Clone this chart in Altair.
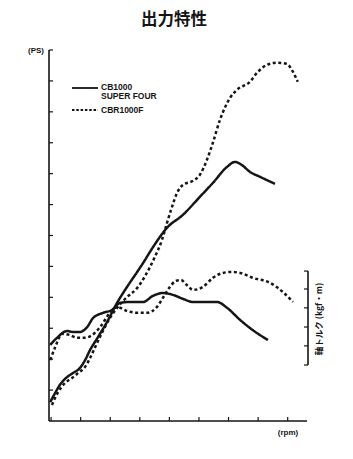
import altair as alt
import pandas as pd

# ---- data (x in rpm-tick units, y in PS-tick units) ----
cb_power_x = [-0.03, 0.14, 0.30, 0.54, 0.74, 0.98, 1.15, 1.32, 1.59, 1.89, 2.23, 2.57, 2.91, 3.11,
              3.45, 3.92, 4.46, 5.03, 5.47, 5.95, 6.22, 6.45, 6.72, 7.06, 7.57]
cb_power_y = [0.61, 0.91, 1.17, 1.42, 1.55, 1.72, 1.97, 2.30, 2.72, 3.20, 3.82, 4.34, 4.82, 5.11,
              5.63, 6.25, 6.67, 7.25, 7.70, 8.22, 8.38, 8.28, 8.06, 7.90, 7.67]

cbr_power_x = [0.03, 0.24, 0.47, 0.71, 0.91, 1.15, 1.32, 1.49, 1.72, 1.99, 2.26, 2.57, 2.91, 3.18,
               3.51, 3.75, 3.92, 4.09, 4.26, 4.46, 4.80, 5.03, 5.27, 5.47, 5.71, 6.05, 6.28, 6.72,
               6.96, 7.30, 7.64, 7.97, 8.18, 8.34]
cbr_power_y = [0.52, 0.94, 1.23, 1.39, 1.55, 1.75, 2.04, 2.39, 2.85, 3.33, 3.69, 4.01, 4.30, 4.69,
               5.31, 5.86, 6.41, 6.93, 7.38, 7.64, 7.77, 7.96, 8.45, 9.00, 9.74, 10.45, 10.71, 10.97,
               11.26, 11.52, 11.59, 11.55, 11.29, 10.97]

cb_torque_x = [-0.03, 0.20, 0.54, 0.74, 0.98, 1.22, 1.42, 1.76, 2.06, 2.33, 2.67, 3.11, 3.45, 3.78,
               4.12, 4.46, 4.80, 5.27, 5.61, 5.95, 6.39, 6.82, 7.33]
cb_torque_y = [2.46, 2.69, 2.91, 2.88, 2.88, 3.04, 3.33, 3.50, 3.59, 3.82, 3.85, 3.85, 4.05, 4.14,
               4.08, 3.95, 3.85, 3.85, 3.85, 3.66, 3.27, 2.94, 2.62]

cbr_torque_x = [-0.03, 0.14, 0.37, 0.64, 0.88, 1.11, 1.39, 1.66, 1.99, 2.23, 2.57, 2.91, 3.24, 3.58,
                3.78, 3.99, 4.22, 4.39, 4.59, 4.80, 5.14, 5.47, 5.81, 6.08, 6.39, 6.82, 7.40, 7.84, 8.18]
cbr_torque_y = [1.97, 2.39, 2.82, 2.78, 2.69, 2.69, 2.78, 3.04, 3.50, 3.69, 3.56, 3.50, 3.50, 3.69,
                3.98, 4.30, 4.53, 4.56, 4.40, 4.24, 4.34, 4.63, 4.79, 4.82, 4.79, 4.63, 4.47, 4.17, 3.85]

left_ticks = [1, 2, 3, 4, 5, 6, 7, 8, 9, 10, 11, 12]
bottom_ticks = [0, 1, 2, 3, 4, 5, 6, 7, 8]
right_ticks = [1.81, 2.43, 3.04, 3.66, 4.27, 4.85]

title_text = "出力特性"
legend_labels = ["CB1000", "SUPER  FOUR", "CBR1000F"]
torque_label = "軸トルク  (kgf・m)"

# ---- build table ----
rows = []
for name, xs, ys, curve in [
    ("CB1000", cb_power_x, cb_power_y, "cb_p"),
    ("CBR1000F", cbr_power_x, cbr_power_y, "cbr_p"),
    ("CB1000", cb_torque_x, cb_torque_y, "cb_t"),
    ("CBR1000F", cbr_torque_x, cbr_torque_y, "cbr_t"),
]:
    for i, (x, y) in enumerate(zip(xs, ys)):
        rows.append({"model": name, "curve": curve, "x": x, "y": y, "i": i})
df = pd.DataFrame(rows)

W, H = 260, 371
xs = alt.Scale(domain=[-0.07, 8.72])
ys = alt.Scale(domain=[0, 12])
ink = "#151515"

lines = alt.Chart(df).mark_line(interpolate="monotone", strokeWidth=2.5, color=ink).encode(
    x=alt.X("x:Q", scale=xs, axis=None),
    y=alt.Y("y:Q", scale=ys, axis=None),
    detail="curve:N",
    order="i:Q",
    strokeDash=alt.StrokeDash("model:N", scale=alt.Scale(domain=["CB1000", "CBR1000F"],
                                                         range=[[1, 0], [3, 2.6]]), legend=None),
)

# axes drawn as rules
left_line = alt.Chart(pd.DataFrame({"a": [0]})).mark_rule(color=ink, strokeWidth=1.6).encode(
    x=alt.value(0), y=alt.value(0), y2=alt.value(H))
bottom_line = alt.Chart(pd.DataFrame({"a": [0]})).mark_rule(color=ink, strokeWidth=1.6).encode(
    x=alt.value(0), x2=alt.value(258), y=alt.value(H))
lt = alt.Chart(pd.DataFrame({"t": left_ticks})).mark_rule(color=ink, strokeWidth=1.2).encode(
    y=alt.Y("t:Q", scale=ys), x=alt.value(0), x2=alt.value(4))
bt = alt.Chart(pd.DataFrame({"t": bottom_ticks})).mark_rule(color=ink, strokeWidth=1.2).encode(
    x=alt.X("t:Q", scale=xs), y=alt.value(H), y2=alt.value(H - 4))
rdf = pd.DataFrame({"t": [right_ticks[0]], "t2": [right_ticks[-1]]})
right_line = alt.Chart(rdf).mark_rule(color=ink, strokeWidth=1.6).encode(
    y=alt.Y("t:Q", scale=ys), y2="t2:Q", x=alt.value(259))
rt = alt.Chart(pd.DataFrame({"t": right_ticks})).mark_rule(color=ink, strokeWidth=1.2).encode(
    y=alt.Y("t:Q", scale=ys), x=alt.value(255), x2=alt.value(259))

# legend
leg_solid = alt.Chart(pd.DataFrame({"a": [0]})).mark_rule(color=ink, strokeWidth=1.8).encode(
    x=alt.value(23), x2=alt.value(49), y=alt.value(38))
leg_dot = alt.Chart(pd.DataFrame({"a": [0]})).mark_rule(color=ink, strokeWidth=1.8,
                                                        strokeDash=[2.5, 1.8]).encode(
    x=alt.value(23), x2=alt.value(49), y=alt.value(60))

def label(txt, x, y, size=8.5, align="left", angle=0, font="Liberation Sans", weight="bold"):
    return alt.Chart(pd.DataFrame({"s": [txt]})).mark_text(
        align=align, baseline="middle", fontSize=size, font=font, fontWeight=weight,
        color=ink, angle=angle).encode(text="s:N", x=alt.value(x), y=alt.value(y))

texts = [
    label(legend_labels[0], 52, 37),
    label(legend_labels[1], 52, 45.5),
    label(legend_labels[2], 52, 60),
    label("(PS)", -5, 1, align="right", size=8),
    label("(rpm)", 239, 383, align="center", size=8),
    label(torque_label, 270, 269, align="center", angle=270, size=8.5,
          font="Noto Sans CJK JP"),
]

chart = alt.layer(lines, left_line, bottom_line, lt, bt, right_line, rt, leg_solid, leg_dot,
                  *texts).properties(
    width=W, height=H,
    title=alt.TitleParams(title_text, anchor="middle", fontSize=16.5, font="Noto Sans CJK JP",
                          fontWeight="bold", color=ink, offset=19, dx=-5),
    autosize=alt.AutoSizeParams(type="none"),
    padding={"left": 41, "top": 42, "right": 36, "bottom": 24},
).configure_view(stroke=None)

chart.save("out.html", embed_options={"renderer": "svg", "actions": False})
